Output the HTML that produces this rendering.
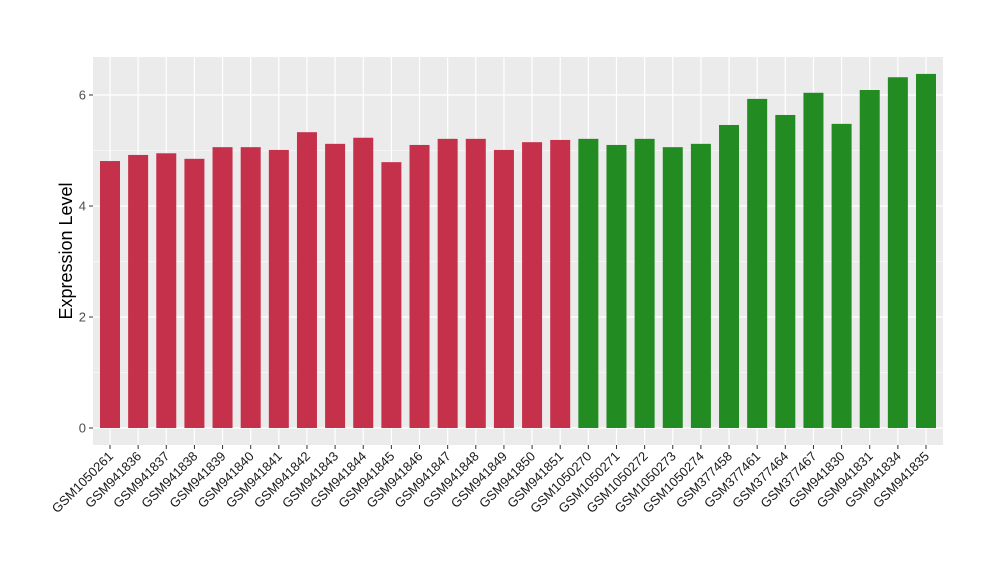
<!DOCTYPE html>
<html><head><meta charset="utf-8"><style>
body{margin:0;background:#fff;font-family:"Liberation Sans",Arial,sans-serif}
</style></head><body>
<svg id="chart" width="1000" height="580" xmlns="http://www.w3.org/2000/svg"></svg>
<script>
const categories=["GSM1050261","GSM941836","GSM941837","GSM941838","GSM941839","GSM941840","GSM941841","GSM941842","GSM941843","GSM941844","GSM941845","GSM941846","GSM941847","GSM941848","GSM941849","GSM941850","GSM941851","GSM1050270","GSM1050271","GSM1050272","GSM1050273","GSM1050274","GSM377458","GSM377461","GSM377464","GSM377467","GSM941830","GSM941831","GSM941834","GSM941835"];
const values=[4.81,4.92,4.95,4.85,5.06,5.06,5.01,5.33,5.12,5.23,4.79,5.10,5.21,5.21,5.01,5.15,5.19,5.21,5.10,5.21,5.06,5.12,5.46,5.93,5.64,6.04,5.48,6.09,6.32,6.38];
const groups=["a","a","a","a","a","a","a","a","a","a","a","a","a","a","a","a","a","b","b","b","b","b","b","b","b","b","b","b","b","b"];
const yTicks=[0,2,4,6];
const NS="http://www.w3.org/2000/svg";
const svg=document.getElementById('chart');
const P={l:93,r:943,t:57,b:445};
const y0=428,unit=55.5;
const y=v=>y0-v*unit;
const x=i=>110+i*(926-110)/(categories.length-1);
function mk(t,a){const e=document.createElementNS(NS,t);for(const k in a)e.setAttribute(k,a[k]);svg.appendChild(e);return e;}
let bg=mk('rect',{x:P.l,y:P.t,width:P.r-P.l,height:P.b-P.t,fill:'#EBEBEB'});


for(let v=1;v<=7;v+=2){if(y(v)<P.t)break;let g=mk('line',{x1:P.l,x2:P.r,y1:y(v),y2:y(v),stroke:'#fff','stroke-width':0.6});

}
yTicks.forEach(v=>{let g=mk('line',{x1:P.l,x2:P.r,y1:y(v),y2:y(v),stroke:'#fff','stroke-width':1.2});


let tk=mk('line',{x1:P.l-4,x2:P.l,y1:y(v),y2:y(v),stroke:'#333'});


let t=mk('text',{x:P.l-7,y:y(v)+4.5,'text-anchor':'end','font-size':13,fill:'#4d4d4d'});t.textContent=v;

});
categories.forEach((c,i)=>{let g=mk('line',{x1:x(i),x2:x(i),y1:P.t,y2:P.b,stroke:'#fff','stroke-width':1.2});

});
categories.forEach((c,i)=>{
let b=mk('rect',{x:x(i)-10,y:y(values[i]),width:20,height:values[i]*unit,fill:groups[i]==='a'?'#C5314A':'#228B22'});


let tk=mk('line',{x1:x(i),x2:x(i),y1:P.b,y2:P.b+4,stroke:'#333'});


let t=mk('text',{x:x(i)+4,y:P.b+12,'text-anchor':'end','font-size':13,fill:'#1a1a1a',transform:`rotate(-45 ${x(i)+4} ${P.b+12})`});t.textContent=c;

});
let yt=mk('text',{x:72,y:251,'text-anchor':'middle','font-size':18,fill:'#000',transform:'rotate(-90 72 251)'});yt.textContent='Expression Level';


</script>
</body></html>
